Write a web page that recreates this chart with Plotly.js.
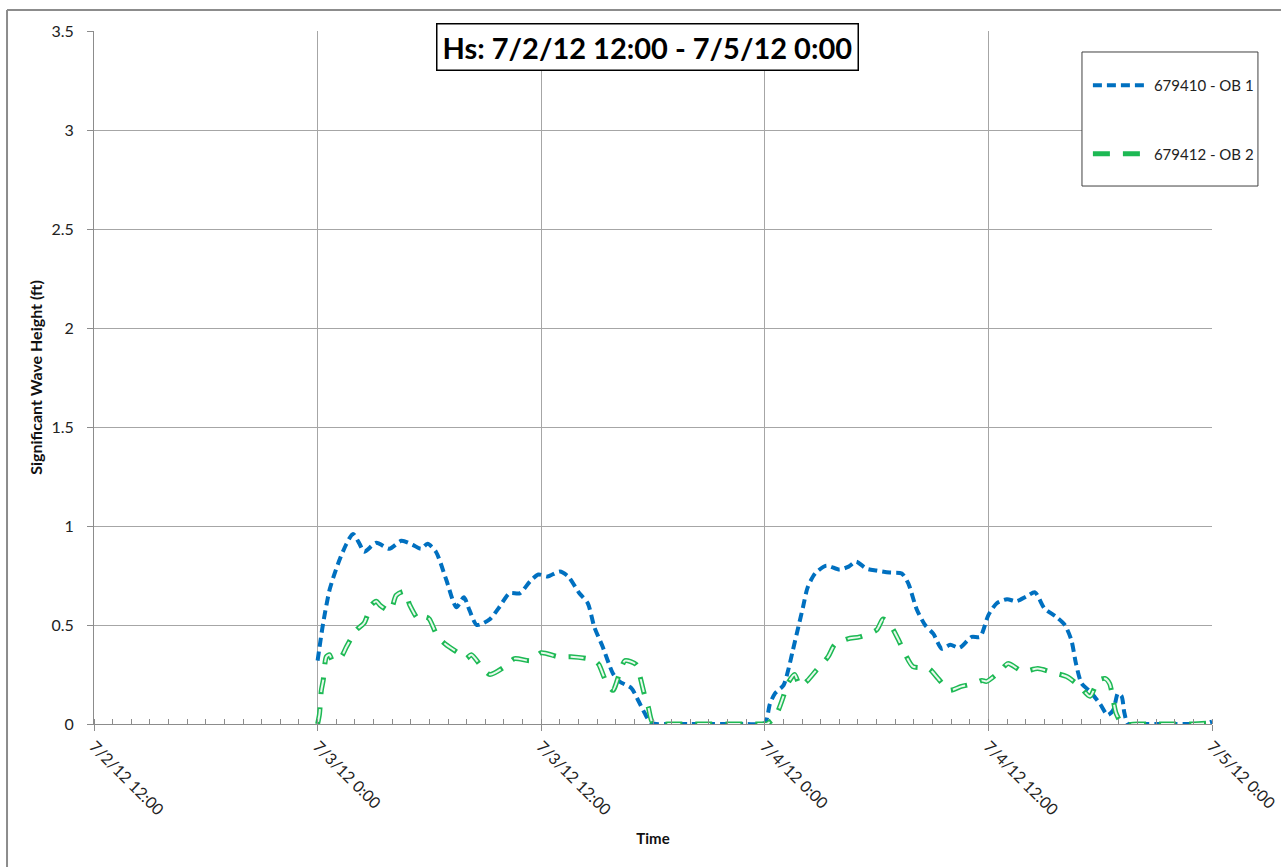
<!DOCTYPE html>
<html>
<head>
<meta charset="utf-8">
<script src="https://cdn.plot.ly/plotly-3.0.1.min.js"></script>
<style>html,body{margin:0;padding:0;background:#fff;}#chart{width:1281px;height:867px;}</style>
</head>
<body>
<div id="chart"></div>
<script>
// Hours counted from 7/3/12 0:00
const ob1Hours = [0, 0.3, 0.65, 1.1, 1.55, 1.9, 2.25, 2.5, 3.15, 3.85, 4.5, 5.1, 5.55, 5.9, 6.35, 6.9, 7.45, 7.85, 8.15, 8.55, 9.25, 9.75, 10.3, 10.85, 11.4, 11.85, 12.35, 13.0, 13.45, 14.05, 14.5, 14.85, 15.3, 15.85, 16.2, 16.85, 17.2, 17.55, 17.9, 19, 20, 21, 22, 23, 24,
  24.27, 24.55, 25.0, 25.25, 25.5, 25.8, 26.05, 26.3, 26.7, 27.3, 28.0, 28.5, 28.9, 29.45, 30.0, 30.7, 31.35, 31.7, 32.15, 32.6, 33.05, 33.5, 33.95, 34.45, 35.1, 35.55, 36.0, 36.45, 37.0, 37.5, 38.05, 38.5, 39.0, 39.65, 40.1, 40.45, 40.7, 41.0, 41.45, 42.0, 42.4, 42.7, 42.95, 43.15, 43.3, 43.5, 44.5, 45.5, 46.5, 47.5, 48];
const ob1Values = [0.32, 0.51, 0.68, 0.81, 0.91, 0.96, 0.91, 0.87, 0.915, 0.885, 0.925, 0.905, 0.885, 0.91, 0.87, 0.73, 0.59, 0.64, 0.575, 0.50, 0.53, 0.59, 0.66, 0.66, 0.72, 0.755, 0.745, 0.77, 0.745, 0.66, 0.61, 0.49, 0.39, 0.255, 0.215, 0.18, 0.12, 0.055, 0.005, 0, 0, 0, 0, 0, 0.005,
  0.10, 0.155, 0.195, 0.27, 0.37, 0.49, 0.59, 0.69, 0.76, 0.80, 0.78, 0.795, 0.82, 0.785, 0.775, 0.765, 0.76, 0.71, 0.58, 0.50, 0.455, 0.38, 0.40, 0.385, 0.44, 0.44, 0.55, 0.61, 0.63, 0.62, 0.645, 0.665, 0.585, 0.54, 0.50, 0.425, 0.305, 0.205, 0.165, 0.10, 0.045, 0.07, 0.155, 0.14, 0.055, 0.0, 0, 0, 0, 0, 0.012];

const ob2Hours = [0, 0.1, 0.2, 0.3, 0.47, 0.64, 0.8, 1.27, 1.55, 2.08, 2.5, 2.88, 3.15, 3.35, 3.9, 4.22, 4.67, 4.95, 5.45, 5.83, 6.0, 6.45, 6.9, 7.7, 7.97, 8.25, 8.87, 9.25, 10.05, 10.57, 11.45, 12.0, 12.9, 13.6, 14.5, 14.95, 15.1, 15.5, 15.85, 16.2, 16.5, 17.1, 17.3, 17.55, 17.75, 18.0, 19, 20, 21, 22, 23, 24,
  24.1, 24.55, 25.0, 25.15, 25.6, 25.9, 26.3, 26.75, 27.4, 27.75, 28.45, 29.1, 30.0, 30.35, 30.8, 31.15, 31.55, 31.95, 32.8, 33.3, 33.9, 34.55, 35.25, 35.65, 35.9, 36.6, 37.05, 37.85, 38.65, 39.45, 40.2, 40.9, 41.45, 41.9, 42.25, 42.5, 42.7, 42.85, 43.2, 44, 45, 46, 47, 48];
const ob2Values = [0, 0.05, 0.17, 0.22, 0.34, 0.35, 0.32, 0.34, 0.39, 0.475, 0.51, 0.60, 0.62, 0.60, 0.57, 0.65, 0.67, 0.60, 0.525, 0.54, 0.53, 0.44, 0.40, 0.35, 0.33, 0.35, 0.28, 0.25, 0.29, 0.33, 0.32, 0.36, 0.34, 0.34, 0.33, 0.315, 0.30, 0.21, 0.17, 0.255, 0.32, 0.30, 0.24, 0.145, 0.085, 0.005, 0, 0, 0, 0, 0, 0,
  0, 0.035, 0.14, 0.19, 0.25, 0.19, 0.22, 0.27, 0.34, 0.40, 0.43, 0.44, 0.475, 0.53, 0.49, 0.43, 0.35, 0.29, 0.28, 0.23, 0.17, 0.19, 0.205, 0.22, 0.215, 0.265, 0.305, 0.265, 0.28, 0.26, 0.24, 0.19, 0.14, 0.22, 0.23, 0.205, 0.12, 0.055, 0, 0, 0, 0, 0, 0.005];

const seriesNames = ['679410 - OB 1', '679412 - OB 2'];
const tickTimes = ['2012-07-02 12:00', '2012-07-03 00:00', '2012-07-03 12:00', '2012-07-04 00:00', '2012-07-04 12:00', '2012-07-05 00:00'];
const tickLabels = ['7/2/12 12:00', '7/3/12 0:00', '7/3/12 12:00', '7/4/12 0:00', '7/4/12 12:00', '7/5/12 0:00'];
const chartTitle = 'Hs: 7/2/12 12:00 - 7/5/12 0:00';

const base = Date.UTC(2012, 6, 3);
function toTime(h) {
  return new Date(base + h * 3600000).toISOString().replace('T', ' ').slice(0, 19);
}
const ob1X = ob1Hours.map(toTime);
const ob2X = ob2Hours.map(toTime);

const FONT = 'Lato, "Open Sans", sans-serif';

const traces = [
  {x: ob1X, y: ob1Values, type: 'scatter', mode: 'lines', name: seriesNames[0], legendgroup: 'g1',
   line: {color: '#0070C0', width: 4, dash: '9px,5px', shape: 'spline', smoothing: 0.7}},
  {x: ob2X, y: ob2Values, type: 'scatter', mode: 'lines', name: seriesNames[1], legendgroup: 'g2',
   line: {color: '#1DB954', width: 5, dash: '17px,13px', shape: 'spline', smoothing: 0.7}},
  {x: ob2X, y: ob2Values, type: 'scatter', mode: 'lines', name: seriesNames[1], legendgroup: 'g2', showlegend: false,
   line: {color: '#E8F8EC', width: 2, dash: '0px,2px,13px,15px', shape: 'spline', smoothing: 0.7}, hoverinfo: 'skip'}
];

const layout = {
  width: 1281, height: 867,
  paper_bgcolor: '#fff', plot_bgcolor: '#fff',
  margin: {l: 94, r: 69, t: 31, b: 143},
  font: {family: FONT, size: 15, color: '#222'},
  showlegend: true,
  legend: {x: 0.889, y: 0.945, xanchor: 'left', yanchor: 'top', bgcolor: 'rgba(0,0,0,0)', borderwidth: 0,
           font: {family: FONT, size: 15, color: '#222'}, traceorder: 'grouped', tracegroupgap: 46, itemwidth: 56},
  xaxis: {
    type: 'date', range: ['2012-07-02 12:00', '2012-07-05 00:00'],
    tickvals: tickTimes, ticktext: tickLabels, tickangle: 45,
    showgrid: true, gridcolor: '#A6A6A6', gridwidth: 1,
    showline: true, linecolor: '#8C8C8C', linewidth: 1,
    ticks: 'outside', ticklen: 6, tickcolor: '#8C8C8C',
    minor: {dtick: 3600000, ticks: 'inside', ticklen: 5, tickcolor: '#8C8C8C', showgrid: false},
    tickfont: {family: FONT, size: 16, color: '#222'},
    title: {text: 'Time', font: {family: FONT, size: 15, color: '#111', weight: 'bold'}, standoff: 16},
    zeroline: false, fixedrange: true
  },
  yaxis: {
    range: [0, 3.5], dtick: 0.5, tick0: 0,
    showgrid: true, gridcolor: '#A6A6A6', gridwidth: 1,
    showline: true, linecolor: '#8C8C8C', linewidth: 1,
    ticks: 'outside', ticklen: 6, tickcolor: '#8C8C8C', ticklabelstandoff: 10,
    tickfont: {family: FONT, size: 16, color: '#222'},
    title: {text: 'Significant Wave Height (ft)', font: {family: FONT, size: 16, color: '#111', weight: 'bold'}, standoff: 4},
    zeroline: false, fixedrange: true
  },
  annotations: [{
    text: '<b>' + chartTitle + '</b>', xref: 'paper', yref: 'paper', x: 0.4955, y: 0.977,
    xanchor: 'center', yanchor: 'middle', showarrow: false,
    font: {family: FONT, size: 29, color: '#000'},
    bgcolor: '#fff', bordercolor: '#000', borderwidth: 1.5, borderpad: 5
  }],
  shapes: [
    {type: 'rect', xref: 'paper', yref: 'paper', x0: 0.8837, x1: 1.0411, y0: 0.7763, y1: 0.9697,
     line: {color: '#404040', width: 1}, fillcolor: '#fff', layer: 'above'},
    {type: 'line', xref: 'paper', yref: 'paper', x0: -0.0778, x1: -0.0778, y0: 1.0303, y1: -0.21,
     line: {color: '#8C8C8C', width: 2}},
    {type: 'line', xref: 'paper', yref: 'paper', x0: -0.0778, x1: 1.07, y0: 1.0303, y1: 1.0303,
     line: {color: '#8C8C8C', width: 2}}
  ]
};

Plotly.newPlot('chart', traces, layout, {displayModeBar: false, staticPlot: true});
</script>
</body>
</html>
